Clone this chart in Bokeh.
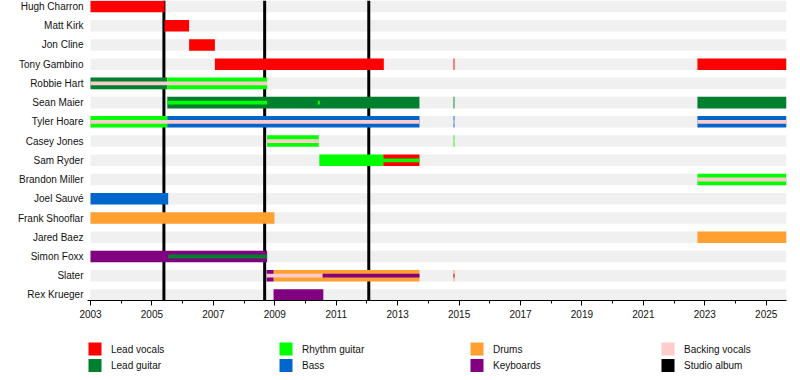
from bokeh.plotting import figure
from bokeh.models import Range1d, FixedTicker, ColumnDataSource
from bokeh.layouts import column
from bokeh.core.properties import value
from bokeh.embed import file_html
from bokeh.resources import INLINE

# ---------------- data ----------------
members = ["Hugh Charron", "Matt Kirk", "Jon Cline", "Tony Gambino", "Robbie Hart",
           "Sean Maier", "Tyler Hoare", "Casey Jones", "Sam Ryder", "Brandon Miller",
           "Joel Sauvé", "Frank Shooflar", "Jared Baez", "Simon Foxx", "Slater", "Rex Krueger"]

roles = ["Lead vocals", "Lead guitar", "Rhythm guitar", "Bass", "Drums", "Keyboards", "Backing vocals"]
role_colors = ["#FF0000", "#00802F", "#00FF00", "#0066CC", "#FFA030", "#800080", "#FFCCCC"]

album_label = "Studio album"
album_color = "black"
album_dates = [2005.39, 2008.67, 2012.06]

timeline_start = 2003.0
timeline_end = 2025.66
year_ticks = list(range(2003, 2026, 2))
minor_year_ticks = list(range(2003, 2026))

# main (full-height) bars
bar_member = ["Hugh Charron", "Matt Kirk", "Jon Cline",
              "Tony Gambino", "Tony Gambino", "Tony Gambino",
              "Robbie Hart", "Robbie Hart",
              "Sean Maier", "Sean Maier", "Sean Maier",
              "Tyler Hoare", "Tyler Hoare", "Tyler Hoare", "Tyler Hoare",
              "Casey Jones", "Casey Jones",
              "Sam Ryder", "Sam Ryder",
              "Brandon Miller", "Joel Sauvé", "Frank Shooflar", "Jared Baez",
              "Simon Foxx",
              "Slater", "Slater", "Slater",
              "Rex Krueger"]
bar_role = ["Lead vocals", "Lead vocals", "Lead vocals",
            "Lead vocals", "Lead vocals", "Lead vocals",
            "Lead guitar", "Rhythm guitar",
            "Lead guitar", "Lead guitar", "Lead guitar",
            "Rhythm guitar", "Bass", "Bass", "Bass",
            "Rhythm guitar", "Rhythm guitar",
            "Rhythm guitar", "Lead vocals",
            "Rhythm guitar", "Bass", "Drums", "Drums",
            "Keyboards",
            "Keyboards", "Drums", "Drums",
            "Keyboards"]
bar_start = [2003.0, 2005.41, 2006.21,
             2007.05, 2014.82, 2022.76,
             2003.0, 2005.50,
             2005.50, 2014.82, 2022.76,
             2003.0, 2005.50, 2014.82, 2022.76,
             2008.75, 2014.82,
             2010.45, 2012.53,
             2022.76, 2003.0, 2003.0, 2022.76,
             2003.0,
             2008.73, 2008.96, 2014.82,
             2008.96]
bar_end = [2005.41, 2006.21, 2007.05,
           2012.55, 2014.85, 2025.66,
           2005.50, 2008.75,
           2013.71, 2014.85, 2025.66,
           2005.50, 2013.71, 2014.85, 2025.66,
           2010.43, 2014.85,
           2012.53, 2013.71,
           2025.66, 2005.53, 2008.99, 2025.66,
           2008.75,
           2008.96, 2013.71, 2014.85,
           2010.58]

# secondary (thin, centred) bars
stripe_member = ["Robbie Hart",
                 "Sean Maier", "Sean Maier",
                 "Tyler Hoare", "Tyler Hoare", "Tyler Hoare",
                 "Casey Jones", "Casey Jones",
                 "Sam Ryder",
                 "Brandon Miller",
                 "Simon Foxx",
                 "Slater", "Slater", "Slater"]
stripe_role = ["Backing vocals",
               "Rhythm guitar", "Rhythm guitar",
               "Backing vocals", "Backing vocals", "Backing vocals",
               "Backing vocals", "Backing vocals",
               "Rhythm guitar",
               "Backing vocals",
               "Lead guitar",
               "Backing vocals", "Keyboards", "Keyboards"]
stripe_start = [2003.0,
                2005.50, 2010.40,
                2003.0, 2014.82, 2022.76,
                2008.75, 2014.82,
                2012.53,
                2022.76,
                2005.53,
                2008.73, 2010.55, 2014.82]
stripe_end = [2008.75,
              2008.75, 2010.47,
              2013.71, 2014.85, 2025.66,
              2010.43, 2014.85,
              2013.71,
              2025.66,
              2008.75,
              2010.55, 2013.71, 2014.85]

# ---------------- layout constants ----------------
FONT = "Liberation Sans"
TXT = "#111111"
PAGE_W = 800
FRAME_L = 87          # frame starts 3 px before the 2003 mark (room for legend squares)
FRAME_R = 786
PX_PER_YEAR = 696 / (timeline_end - timeline_start)
x_lo = timeline_start - (90 - FRAME_L) / PX_PER_YEAR

n = len(members)
row_of = {m: i for i, m in enumerate(members)}
y_bottom, y_top = n - 1 + 0.29, -0.31

# ---------------- main figure ----------------
p = figure(width=PAGE_W, height=326, output_backend="svg", toolbar_location=None,
           x_range=Range1d(x_lo, timeline_end),
           y_range=Range1d(y_bottom, y_top),
           min_border_left=FRAME_L, min_border_right=PAGE_W - FRAME_R,
           min_border_top=0, min_border_bottom=26)
p.outline_line_color = None
p.xgrid.visible = False
p.ygrid.visible = False
p.background_fill_color = "white"
p.border_fill_color = "white"

BAR_H = 0.6
STRIPE_H = 0.2

# light grey row bands
p.hbar(y=list(range(n)), left=timeline_start, right=timeline_end, height=BAR_H,
       fill_color="#F0F0F0", line_color=None, level="image")

# studio album lines (3 px wide)
line_w = 3 / PX_PER_YEAR
p.vbar(x=album_dates, width=line_w, bottom=y_top, top=y_bottom,
       fill_color=album_color, line_color=None, level="underlay")

for role, col in zip(roles, role_colors):
    idx = [k for k, r in enumerate(bar_role) if r == role]
    src = ColumnDataSource(dict(y=[row_of[bar_member[k]] for k in idx],
                                left=[bar_start[k] for k in idx],
                                right=[bar_end[k] for k in idx]))
    p.hbar(y="y", left="left", right="right", height=BAR_H, source=src,
           fill_color=col, line_color=None)
for role, col in zip(roles, role_colors):
    idx = [k for k, r in enumerate(stripe_role) if r == role]
    src = ColumnDataSource(dict(y=[row_of[stripe_member[k]] for k in idx],
                                left=[stripe_start[k] for k in idx],
                                right=[stripe_end[k] for k in idx]))
    p.hbar(y="y", left="left", right="right", height=STRIPE_H, source=src,
           fill_color=col, line_color=None)

# axes
xa = p.xaxis[0]
xa.ticker = FixedTicker(ticks=year_ticks, minor_ticks=minor_year_ticks)
xa.major_label_overrides = {t: str(t) for t in year_ticks}
xa.major_tick_out = 5
xa.major_tick_in = 0
xa.minor_tick_out = 3
xa.minor_tick_in = 0
xa.axis_line_color = "black"
xa.major_tick_line_color = "black"
xa.minor_tick_line_color = "black"
xa.major_label_text_font = FONT
xa.major_label_text_font_size = "10px"
xa.major_label_text_color = TXT
xa.major_label_standoff = 4

ya = p.yaxis[0]
ya.ticker = FixedTicker(ticks=list(range(n)))
ya.major_label_overrides = {i: m for i, m in enumerate(members)}
ya.axis_line_color = None
ya.major_tick_line_color = None
ya.minor_tick_line_color = None
ya.major_tick_out = 0
ya.major_tick_in = 0
ya.major_label_standoff = 4
ya.major_label_text_font = FONT
ya.major_label_text_font_size = "10px"
ya.major_label_text_color = TXT

# ---------------- legend figure (frame aligned with main frame) ----------------
LEG_H = 54
leg_labels = roles + [album_label]
leg_colors = role_colors + [album_color]
# two rows, filled column by column
leg_col = [i // 2 for i in range(len(leg_labels))]
leg_row = [i % 2 for i in range(len(leg_labels))]
sq_x = [94.5 + 191 * c for c in leg_col]     # page-pixel positions
sq_y = [22.5 + 16.5 * r for r in leg_row]
tx_x = [x + 16 for x in sq_x]

lg = figure(width=PAGE_W, height=LEG_H, output_backend="svg", toolbar_location=None,
            x_range=Range1d(FRAME_L, FRAME_R), y_range=Range1d(LEG_H, 0),
            x_axis_type=None, y_axis_type=None,
            min_border_left=FRAME_L, min_border_right=PAGE_W - FRAME_R,
            min_border_top=0, min_border_bottom=0)
lg.outline_line_color = None
lg.xgrid.visible = False
lg.ygrid.visible = False
lg.background_fill_color = "white"
lg.border_fill_color = "white"
lg.rect(x=sq_x, y=sq_y, width=13, height=13, fill_color=leg_colors, line_color=None)
lg.text(x=tx_x, y=sq_y, text=leg_labels, text_font=value(FONT), text_font_size="10px",
        text_baseline="middle", text_align="left", text_color=TXT)

layout = column(p, lg, spacing=0)
open("out.html", "w").write(file_html(layout, INLINE))
